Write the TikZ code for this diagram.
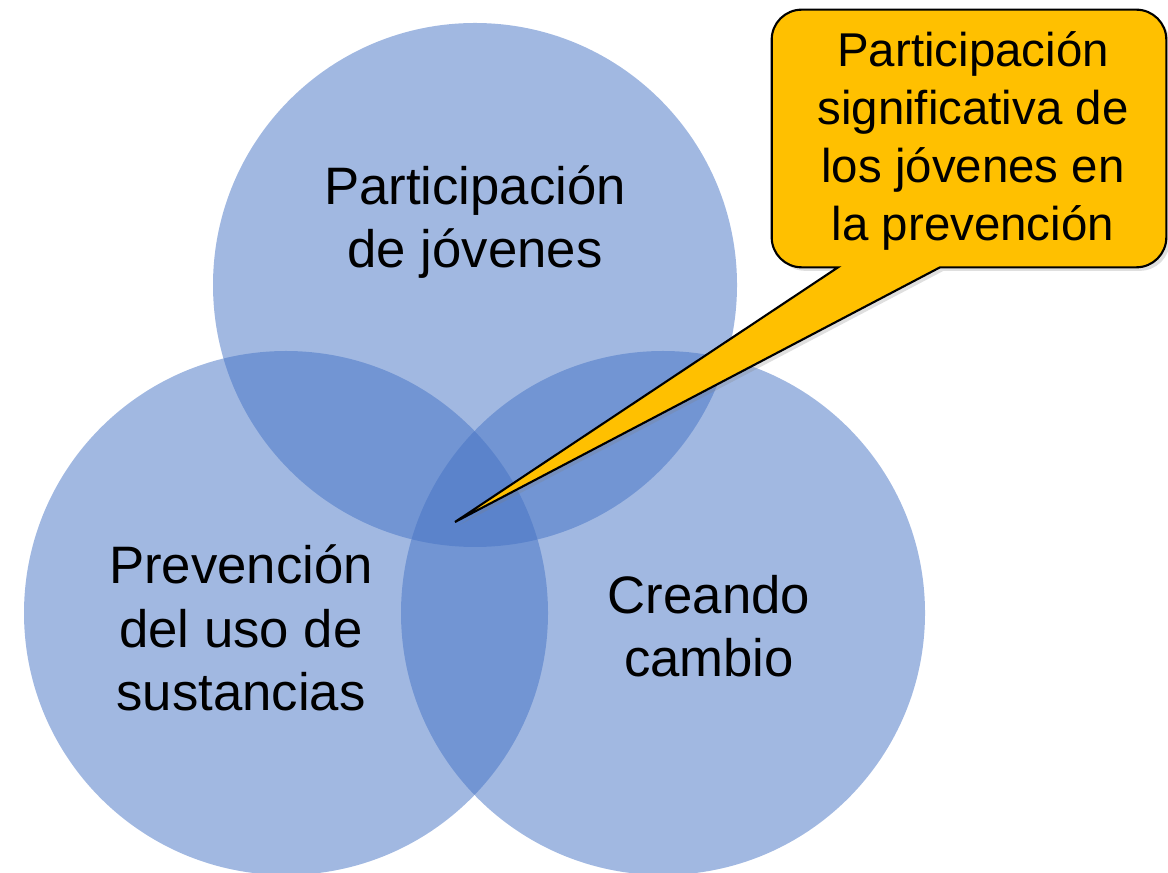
\documentclass[tikz,border=0pt]{standalone}
\usepackage{fontspec}
\setmainfont{Liberation Sans}
\usepackage{tikz}
\usetikzlibrary{shadows}
\def\vennradius{262}
\definecolor{vennblue}{HTML}{4472C4}
\definecolor{notegold}{HTML}{FFC000}

\begin{document}
\begin{tikzpicture}[x=0.02cm, y=0.02cm,
    venn/.style={circle, fill=vennblue, fill opacity=0.5, inner sep=0pt,
      minimum size=2*\vennradius*0.02cm},
    venntext/.style={align=center, font=\fontsize{30}{36}\selectfont},
    notebox/.style={fill=notegold, draw=black, line width=1.2pt,
      drop shadow={opacity=0.25, shadow xshift=2pt, shadow yshift=-2pt}},
    notetext/.style={align=center, font=\fontsize{27}{33}\selectfont}]
  \useasboundingbox (0,0) rectangle (1168,872);
  % the three circles
  \node[venn] (top) at (475,587) {};
  \node[venn] (left) at (286,259) {};
  \node[venn] (right) at (663,259) {};
  \node[venntext] (toplabel) at (475,650) {Participación\\de jóvenes};
  \node[venntext] (leftlabel) at (241,244) {Prevención\\del uso de\\sustancias};
  \node[venntext] (rightlabel) at (709,246) {Creando\\cambio};
  % callout pointing into the middle
  \coordinate (tip) at (455,350);
  \node[minimum width=7.88cm, minimum height=5.14cm, inner sep=0pt] (note) at (969,733.5) {};
  \draw[notebox] (note.east) [rounded corners=0.6cm] -- (note.south east) [sharp corners]
    -- ([xshift=-0.58cm]note.south) -- (tip)
    -- ([xshift=-2.62cm]note.south) [rounded corners=0.6cm] -- (note.south west)
    -- (note.north west) -- (note.north east) -- cycle;
  \node[notetext] (notelabel) at (973,731) {Participación\\significativa de\\los jóvenes en\\la prevención};
\end{tikzpicture}
\end{document}
